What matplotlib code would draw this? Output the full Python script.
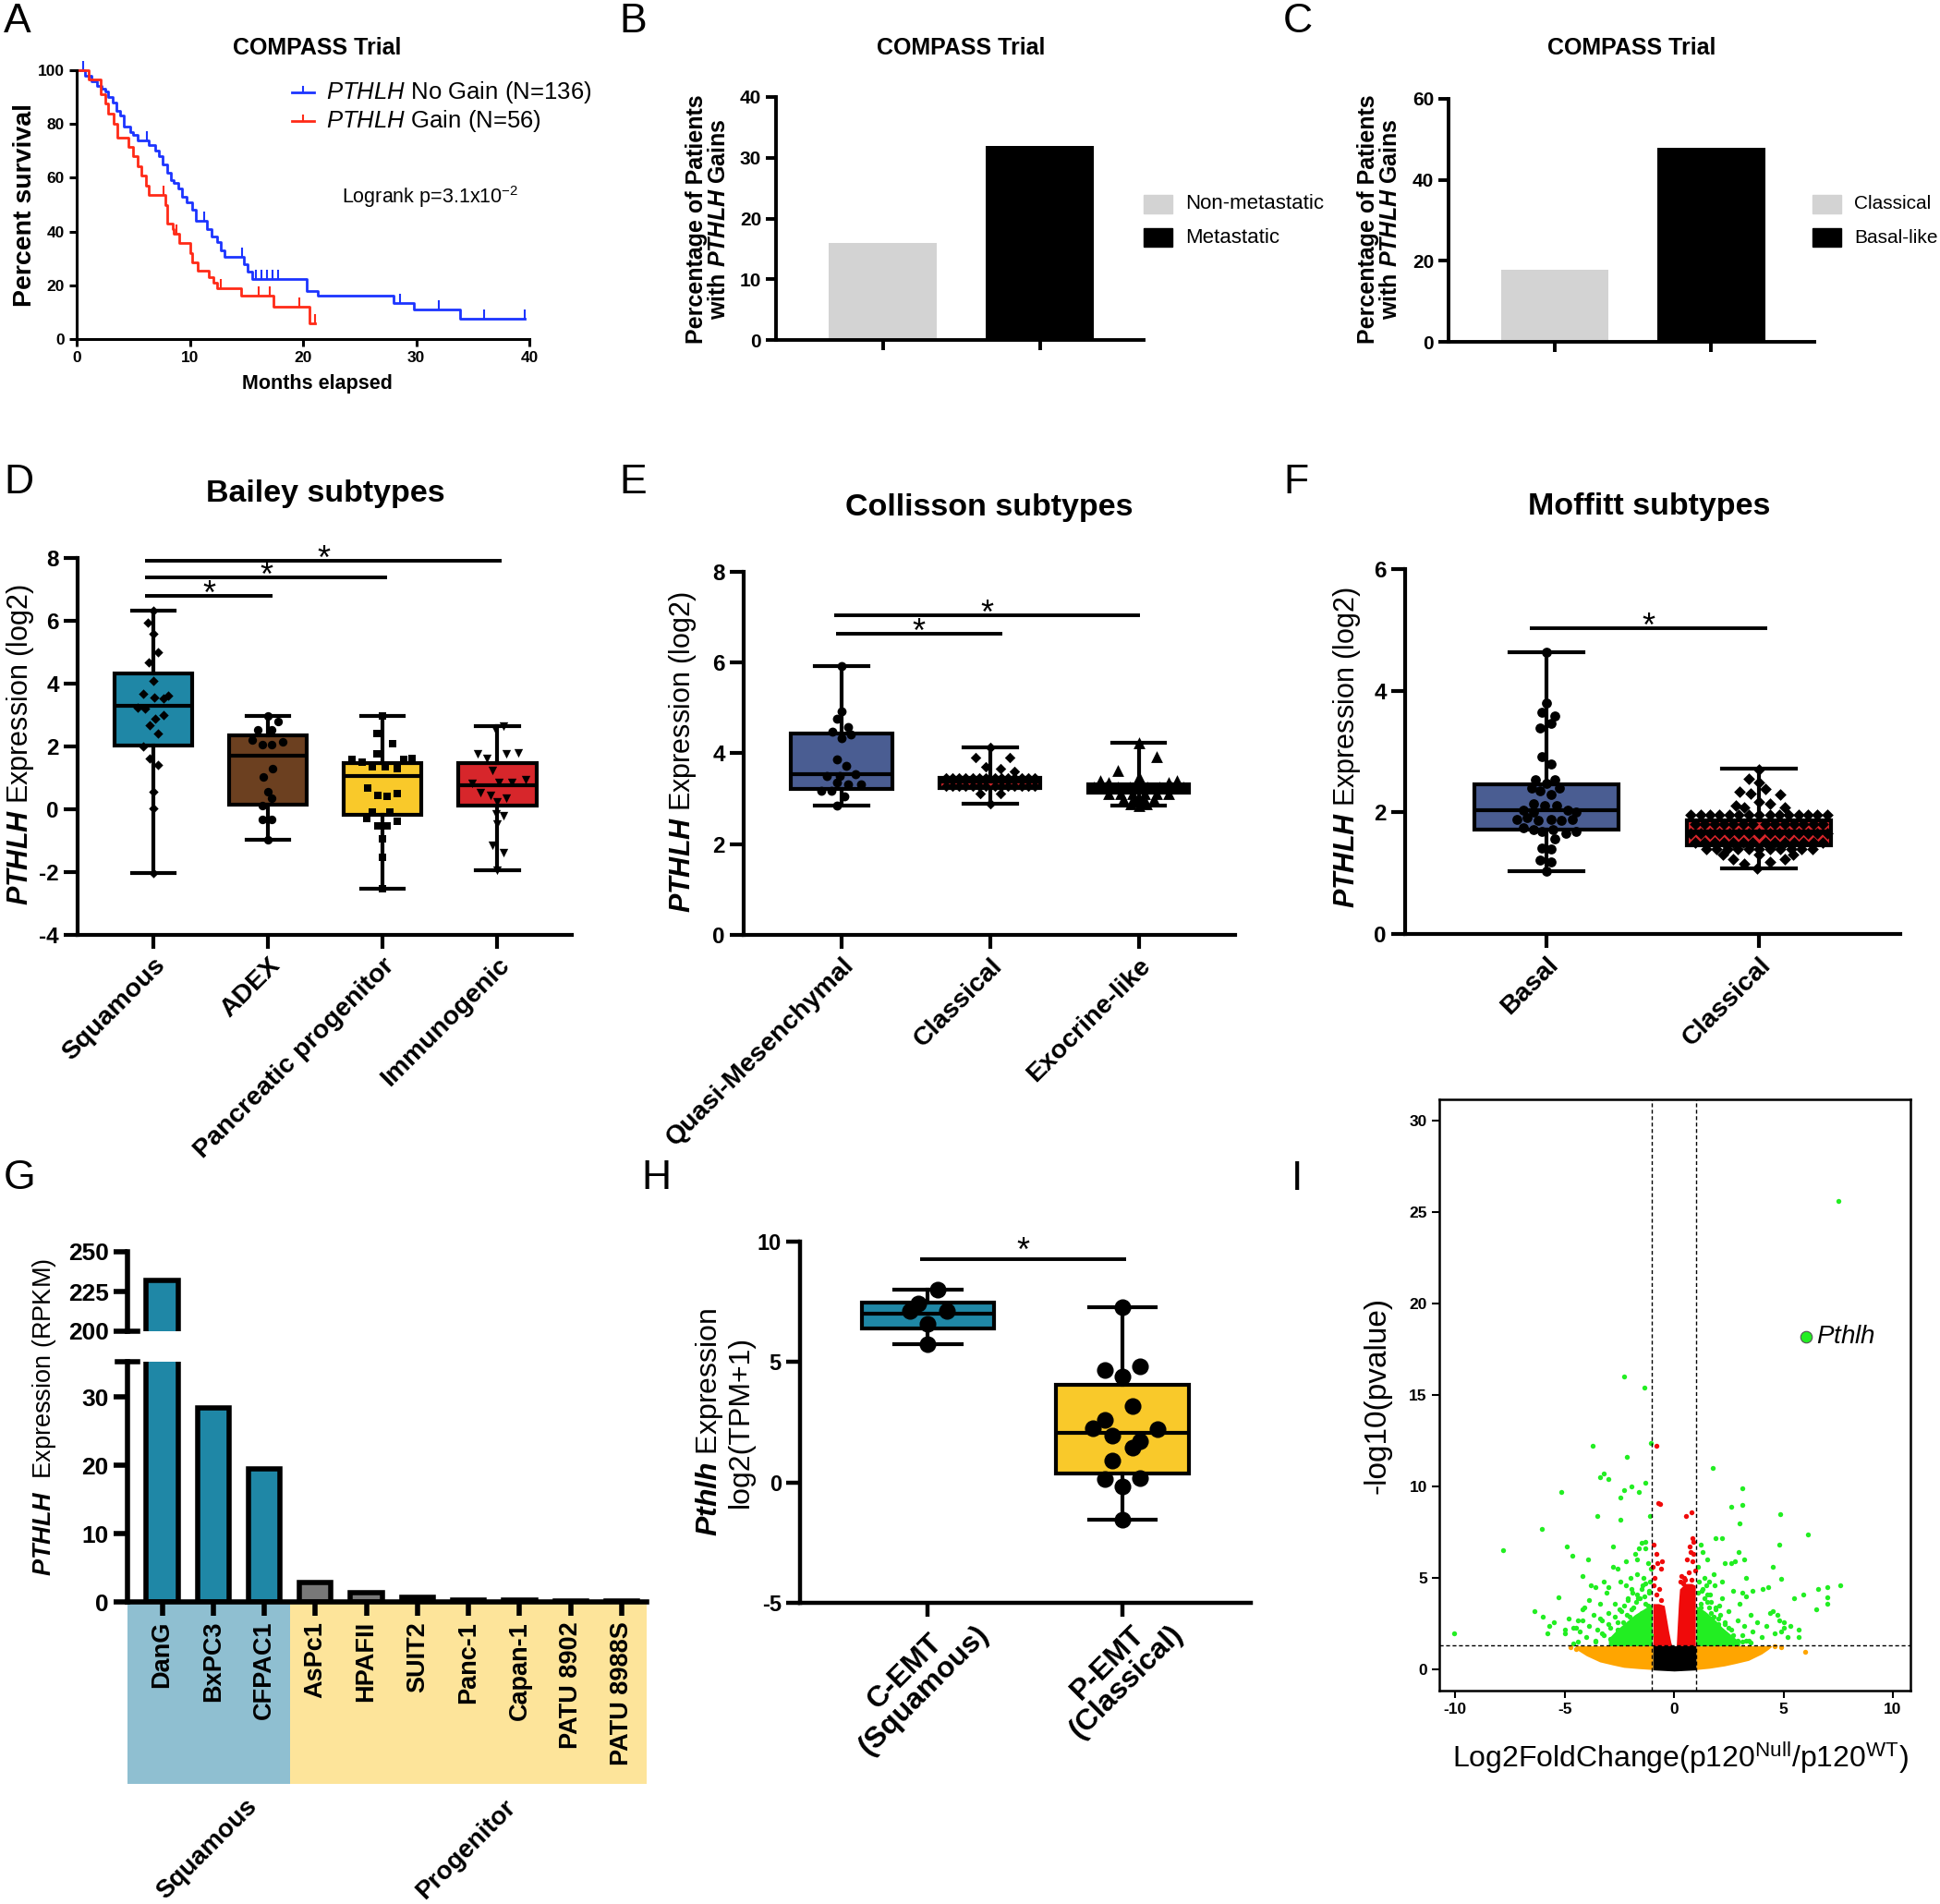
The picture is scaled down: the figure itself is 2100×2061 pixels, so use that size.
import matplotlib
matplotlib.use('Agg')
import matplotlib.pyplot as plt
import matplotlib.transforms as mtrans
from matplotlib.lines import Line2D
from matplotlib.patches import Rectangle

plt.rcParams['font.family'] = ['Liberation Sans', 'DejaVu Sans']
plt.rcParams['font.weight'] = 'bold'
plt.rcParams['axes.unicode_minus'] = False
plt.rcParams['mathtext.fontset'] = 'custom'
plt.rcParams['mathtext.rm'] = 'Liberation Sans:normal'
plt.rcParams['mathtext.it'] = 'Liberation Sans:italic:normal'
plt.rcParams['mathtext.bf'] = 'Liberation Sans:bold'
plt.rcParams['mathtext.sf'] = 'Liberation Sans:bold:italic'

# ---------------- data ----------------
# A - survival (months, percent)
km_ng_t = [0, 0.7, 1.3, 1.8, 2.2, 2.5, 2.8, 3.2, 3.5, 3.8, 4.2, 4.7, 5.0, 5.4, 6.4, 6.9, 7.3, 7.6, 8.0, 8.3,
           8.6, 9.0, 9.3, 9.7, 10.2, 10.5, 11.5, 11.9, 12.4, 12.7, 13.1, 14.8, 15.1, 15.5, 20.3, 21.3, 28.0, 29.8, 33.9, 39.6]
km_ng_s = [100, 98, 96, 94, 93, 92, 90, 88, 85, 83, 79, 77, 76, 74, 72, 70, 68, 65, 62, 59,
           58, 56, 53, 51, 48, 44, 41, 38, 36, 33, 30.5, 28, 25, 22.5, 18, 16, 13.4, 11, 7.5, 7.5]
km_ng_cens_t = [0.6, 6.2, 11.3, 14.6, 15.8, 16.3, 16.8, 17.3, 17.8, 28.6, 32.0, 36.0, 39.6]
km_ng_cens_s = [100, 74, 44, 30.5, 22.5, 22.5, 22.5, 22.5, 22.5, 13.4, 11, 7.5, 7.5]
km_g_t = [0, 1.1, 2.1, 2.5, 2.8, 3.3, 3.6, 4.6, 5.0, 5.4, 5.7, 6.1, 6.4, 7.8, 8.0, 8.5, 8.6, 9.1, 10.0, 10.2,
          10.7, 11.7, 12.1, 12.4, 14.5, 17.4, 20.6, 21.1]
km_g_s = [100, 96.4, 91, 87.5, 84, 80, 75, 71.4, 67.9, 64.3, 60.7, 57.1, 53.6, 50, 43, 41, 39.3, 35.7, 32, 28.6,
          25.5, 23, 21, 19, 16, 12, 6, 6]
km_g_cens_t = [7.7, 8.8, 12.7, 16.1, 17.1, 19.7, 21.1]
km_g_cens_s = [53.6, 39.3, 19, 16, 16, 12, 6]

# B, C - percentage with gains
b_groups = ['Non-metastatic', 'Metastatic']
b_values = [16, 32]
c_groups = ['Classical', 'Basal-like']
c_values = [17.8, 47.8]

# D - Bailey subtypes (whislo, q1, med, q3, whishi)
d_cats = ['Squamous', 'ADEX', 'Pancreatic progenitor', 'Immunogenic']
d_stats = [(-2.03, 2.02, 3.30, 4.33, 6.32),
           (-0.98, 0.16, 1.70, 2.34, 2.98),
           (-2.54, -0.18, 1.06, 1.48, 2.98),
           (-1.94, 0.12, 0.76, 1.48, 2.66)]
d_sq_x = [0, -0.05, 0, 0.04, -0.04, 0, -0.09, 0.01, 0.09, 0.13, -0.14, -0.07, 0.09, 0.02, -0.03, 0.04, -0.09, -0.03, 0.04, 0, 0, 0]
d_sq_y = [6.32, 5.94, 5.60, 5.01, 4.69, 4.08, 3.67, 3.55, 3.52, 3.63, 3.23, 3.20, 3.01, 2.89, 2.69, 2.40, 1.99, 1.62, 1.40, 0.56, 0.03, -2.03]
d_adex_x = [0, 0.09, -0.09, 0.03, -0.14, -0.05, 0.03, 0.13, 0.04, -0.04, 0, 0.03, -0.05, -0.05, 0.03, 0]
d_adex_y = [2.98, 2.79, 2.53, 2.53, 2.21, 2.06, 2.06, 2.16, 1.29, 1.02, 0.56, 0.35, 0.12, -0.31, -0.31, -0.98]
d_pp_x = [0, -0.05, 0.09, -0.05, -0.27, -0.18, 0.26, 0.18, -0.09, 0.02, 0.13, -0.13, -0.04, 0.04, 0.13, -0.09,
          0.06, -0.14, 0.13, -0.04, 0.04, 0, 0, 0]
d_pp_y = [2.98, 2.40, 2.08, 1.77, 1.58, 1.51, 1.62, 1.58, 1.36, 1.36, 1.29, 0.67, 0.45, 0.41, 0.50, -0.09,
          -0.10, -0.29, -0.39, -0.53, -0.53, -0.94, -1.52, -2.54]
d_im_x = [-0.02, 0.05, -0.17, -0.09, 0.08, 0.18, -0.04, -0.22, -0.15, -0.06, 0.01, 0.13, 0.25, 0, 0.08, -0.01,
          0.05, 0, -0.04, 0.05, 0]
d_im_y = [2.57, 2.66, 1.77, 1.62, 1.77, 1.80, 1.23, 0.82, 0.53, 0.45, 0.85, 0.85, 0.94, 0.23, 0.35, -0.16,
          -0.20, -0.47, -1.15, -1.37, -1.94]

# E - Collisson subtypes
e_cats = ['Quasi-Mesenchymal', 'Classical', 'Exocrine-like']
e_stats = [(2.84, 3.21, 3.54, 4.43, 5.92),
           (2.89, 3.23, 3.37, 3.47, 4.14),
           (2.84, 3.13, 3.22, 3.32, 4.23)]
e_qm_x = [0, 0, -0.03, 0.04, -0.06, 0.06, 0, -0.03, 0.03, -0.10, -0.01, 0.09, -0.03, 0.13, 0.04, -0.14, -0.07, 0.02, -0.03]
e_qm_y = [5.92, 4.93, 4.76, 4.58, 4.48, 4.42, 4.33, 3.87, 3.72, 3.51, 3.51, 3.54, 3.36, 3.32, 3.32, 3.17, 3.17, 3.06, 2.84]
e_cl_x = [0, -0.10, 0.13, -0.03, 0.07, 0.16,
          -0.30, -0.255, -0.21, -0.165, -0.12, -0.075, -0.03, 0.03, 0.075, 0.12, 0.165, 0.21, 0.255, 0.30,
          -0.30, -0.255, -0.21, -0.165, -0.12, -0.075, -0.03, 0.03, 0.075, 0.12, 0.165, 0.21, 0.255, 0.30,
          -0.07, 0.07, 0]
e_cl_y = [4.14, 3.90, 3.90, 3.71, 3.67, 3.60,
          3.46, 3.46, 3.46, 3.46, 3.46, 3.46, 3.46, 3.46, 3.46, 3.46, 3.46, 3.46, 3.46, 3.46,
          3.28, 3.28, 3.28, 3.28, 3.28, 3.28, 3.28, 3.28, 3.28, 3.28, 3.28, 3.28, 3.28, 3.28,
          3.11, 3.11, 2.89]
e_ex_x = [0, -0.14, 0.12, 0, -0.26, -0.20, 0.20, 0.26,
          -0.30, -0.22, -0.14, -0.06, 0.06, 0.14, 0.22, 0.30,
          -0.20, -0.12, -0.04, 0.04, 0.12, 0.20, -0.10, -0.03, 0.03, 0.10, -0.05, 0.05, 0]
e_ex_y = [4.23, 3.63, 3.92, 3.49, 3.40, 3.36, 3.36, 3.40,
          3.25, 3.25, 3.25, 3.25, 3.25, 3.25, 3.25, 3.25,
          3.12, 3.12, 3.12, 3.12, 3.12, 3.12, 3.00, 3.00, 3.00, 3.00, 2.90, 2.90, 2.84]

# F - Moffitt subtypes
f_cats = ['Basal', 'Classical']
f_stats = [(1.03, 1.71, 2.04, 2.46, 4.63),
           (1.08, 1.46, 1.68, 1.87, 2.72)]
f_ba_x = [0, 0, -0.02, 0.04, 0.02, -0.03, -0.02, 0.02, -0.05, 0.04, 0, -0.07, 0.06, -0.03, 0.02, -0.06, -0.01,
          0.05, -0.11, -0.06, 0.10, 0.14, -0.14, -0.09, -0.04, 0.02, 0.07, 0.12, -0.11, -0.06, -0.02, 0.03,
          0.09, 0.14, 0.04, -0.02, 0.02, -0.03, 0.02, 0]
f_ba_y = [4.63, 3.80, 3.65, 3.58, 3.47, 3.38, 2.91, 2.80, 2.54, 2.54, 2.48, 2.40, 2.40, 2.36, 2.29, 2.14, 2.11,
          2.11, 2.04, 2.01, 2.04, 2.01, 1.89, 1.91, 1.87, 1.89, 1.87, 1.89, 1.74, 1.71, 1.68, 1.72,
          1.65, 1.68, 1.57, 1.42, 1.40, 1.22, 1.19, 1.03]
f_cl_x = [0, -0.05, 0, -0.09, -0.04, 0.03, 0.10, -0.11, -0.07, 0.05, 0.12, 0,
          -0.32, -0.275, -0.23, -0.185, -0.14, -0.095, -0.05, 0, 0.05, 0.095, 0.14, 0.185, 0.23, 0.275, 0.32,
          -0.30, -0.255, -0.21, -0.165, -0.12, -0.075, -0.03, 0.03, 0.075, 0.12, 0.165, 0.21, 0.255, 0.30,
          -0.32, -0.275, -0.23, -0.185, -0.14, -0.095, -0.05, 0, 0.05, 0.095, 0.14, 0.185, 0.23, 0.275, 0.32,
          -0.30, -0.255, -0.21, -0.165, -0.12, -0.075, -0.03, 0.03, 0.075, 0.12, 0.165, 0.21, 0.255, 0.30,
          -0.25, -0.20, -0.15, -0.10, -0.05, 0, 0.05, 0.10, 0.15, 0.20, 0.25,
          -0.17, -0.12, -0.07, -0.01, 0.05, 0.12, 0.16, 0]
f_cl_y = [2.70, 2.55, 2.49, 2.34, 2.31, 2.38, 2.29, 2.11, 2.08, 2.14, 2.08, 2.17,
          1.96, 1.96, 1.96, 1.96, 1.96, 1.96, 1.96, 1.96, 1.96, 1.96, 1.96, 1.96, 1.96, 1.96, 1.96,
          1.81, 1.81, 1.81, 1.81, 1.81, 1.81, 1.81, 1.81, 1.81, 1.81, 1.81, 1.81, 1.81, 1.81,
          1.66, 1.66, 1.66, 1.66, 1.66, 1.66, 1.66, 1.66, 1.66, 1.66, 1.66, 1.66, 1.66, 1.66, 1.66,
          1.50, 1.50, 1.50, 1.50, 1.50, 1.50, 1.50, 1.50, 1.50, 1.50, 1.50, 1.50, 1.50, 1.50,
          1.39, 1.39, 1.39, 1.39, 1.39, 1.39, 1.39, 1.39, 1.39, 1.39, 1.39,
          1.30, 1.23, 1.15, 1.08, 1.19, 1.23, 1.30, 1.31]

# G - cell lines RPKM
g_lines = ['DanG', 'BxPC3', 'CFPAC1', 'AsPc1', 'HPAFII', 'SUIT2', 'Panc-1', 'Capan-1', 'PATU 8902', 'PATU 8988S']
g_rpkm = [232, 28.4, 19.5, 2.8, 1.3, 0.7, 0.3, 0.25, 0.2, 0.1]
g_group = ['Squamous', 'Squamous', 'Squamous', 'Progenitor', 'Progenitor', 'Progenitor', 'Progenitor',
           'Progenitor', 'Progenitor', 'Progenitor']

# H - mouse EMT subtypes
h_cats = ['C-EMT\n(Squamous)', 'P-EMT\n(Classical)']
h_stats = [(5.74, 6.39, 7.01, 7.46, 7.99),
           (-1.56, 0.39, 2.05, 4.04, 7.27)]
h_c_x = [0.05, -0.05, -0.09, 0.10, 0, 0]
h_c_y = [7.99, 7.42, 7.13, 7.13, 6.58, 5.74]
h_p_x = [0, -0.09, 0.09, 0, 0.05, -0.09, -0.15, 0.18, -0.05, 0.09, 0.05, -0.05, -0.09, 0.09, 0, 0]
h_p_y = [7.27, 4.67, 4.82, 4.39, 3.16, 2.58, 2.25, 2.23, 1.93, 1.70, 1.46, 0.92, 0.14, 0.18, -0.16, -1.56]

# I - volcano (log2FC, -log10 p)
green_x = [7.5, -2.3, -1.36, -1.05, -3.73, -2.16, -3.2, -3.4, -3.0, -5.16, -1.97, -1.3, -2.3, -1.6, -2.45, 1.76, 3.1,
           3.1, 2.6, 4.86, 3.0, -3.5, -2.45, -1.1, -6.04, -7.8, 6.1, -4.9, 1.9, 2.2, 4.8, 2.96, 3.2, -3.94, -4.65,
           4.5, 2.3, 2.8, 4.88, 4.05, 4.3, 6.58, 7.0, 7.6, 7.0, 7.0, 6.5, 5.5, 5.9, -6.4, -6.0, -5.3, -4.17, -10.05,
           5.7, 5.7, -1.3, -1.6, -1.8, -2.8, -2.2, -2.6, -3.6, -3.2, 1.2, 1.5, 1.8, 3.3, 3.6, -5.0, -4.6, -4.4, -5.7,
           -4.2, -3.9, 4.7, 5.0, 5.3, 4.9, 4.5,
           -4.4, -4.3, -4.2, -4.1, -4.0, -3.9, -3.8, -3.7, -3.6, -3.5, -3.4, -3.3, -3.2, -3.1, -3.0, -2.9, -2.8,
           -2.7, -2.6, -2.5, -2.45, -2.4, -2.3, -2.2, -2.1, -2.05, -2.0, -1.95, -1.9, -1.85, -1.8, -1.75, -1.7,
           -1.65, -1.6, -1.55, -1.5, -1.45, -1.4, -1.35, -1.3, -1.25, -1.2, -1.15, -1.1, -1.08, -1.05, -1.2, -1.3,
           -1.5, -1.7, -2.0, -2.8, -3.0, -4.5, -4.8, -5.0, -5.5, -5.8, -4.6,
           1.1, 1.15, 1.2, 1.25, 1.3, 1.35, 1.4, 1.45, 1.5, 1.55, 1.6, 1.65, 1.7, 1.75, 1.8, 1.85, 1.9, 1.95, 2.0,
           2.1, 2.2, 2.3, 2.4, 2.5, 2.6, 2.7, 2.8, 2.9, 3.0, 3.1, 3.2, 3.3, 3.4, 3.5, 3.6, 3.8, 4.0, 4.2, 4.4, 4.6,
           4.8, 5.0, 5.2, 1.1, 1.3, 1.6, 2.2, 2.6, 3.1,
           -3.3, -3.0, -2.7, -2.5, -2.3, -2.1, -1.9, -1.7, -1.5, -1.3, -1.15, -2.9, -2.6, -2.35, -2.15, -1.95, -1.75,
           -1.55, -1.35, -1.2, -3.6, -3.4, -2.2, -1.4, -1.1,
           1.1, 1.3, 1.5, 1.7, 1.9, 2.1, 2.3, 2.5, 2.7, 2.9, 3.1, 1.2, 1.4, 1.6, 1.8, 2.0, 2.2, 2.4, 2.6, 2.8,
           3.3, 3.5, 1.15, 1.45, 2.05]
green_y = [25.6, 16.0, 15.4, 12.4, 12.2, 11.6, 10.7, 10.5, 10.4, 9.7, 10.0, 10.2, 9.8, 9.7, 9.4, 11.0, 9.9,
           9.0, 8.9, 8.5, 8.0, 8.4, 8.2, 8.4, 7.7, 6.5, 7.4, 6.7, 7.2, 7.2, 6.8, 6.4, 6.0, 6.0, 6.2,
           5.6, 5.8, 5.9, 4.95, 4.4, 4.5, 4.4, 4.5, 4.6, 3.95, 3.6, 3.3, 3.9, 4.1, 3.2, 2.9, 3.95, 5.1, 2.0,
           2.2, 1.8, 7.0, 6.6, 6.3, 6.7, 5.9, 5.5, 4.5, 4.8, 6.8, 6.0, 5.2, 5.0, 4.3, 2.0, 2.3, 2.7, 2.4,
           3.3, 3.8, 3.0, 2.6, 2.4, 2.1, 3.2,
           1.5, 2.1, 2.7, 3.4, 1.8, 2.4, 4.6, 3.0, 1.6, 2.2, 3.6, 2.7, 1.9, 4.2, 3.1, 2.3, 1.6,
           3.6, 2.6, 2.0, 4.8, 3.2, 1.7, 2.4, 3.8, 2.9, 1.5, 4.4, 2.2, 3.4, 1.8, 2.7, 5.2,
           3.9, 1.6, 2.4, 3.1, 4.6, 2.0, 2.8, 3.6, 1.5, 2.3, 4.2, 3.0, 1.9, 5.5, 5.8, 6.6,
           6.9, 6.0, 5.0, 5.6, 4.5, 2.3, 2.8, 2.2, 2.6, 2.0, 1.4,
           1.6, 2.5, 3.4, 4.3, 1.9, 2.9, 5.0, 2.2, 3.7, 1.5, 2.6, 4.1, 3.1, 1.8, 2.3, 4.6, 3.4, 1.6, 2.8,
           2.0, 3.9, 2.5, 1.7, 3.2, 2.2, 4.3, 1.5, 2.7, 3.6, 1.9, 2.4, 4.0, 1.6, 3.0, 2.1, 2.6, 1.8, 2.4, 3.1, 2.0,
           2.7, 2.3, 1.8, 5.6, 6.4, 4.8, 4.8, 5.8, 4.2,
           2.0, 2.5, 2.9, 3.3, 3.5, 3.9, 4.2, 4.1, 4.4, 4.7, 4.3, 1.7, 2.2, 2.6, 3.0, 3.3, 3.7,
           3.9, 4.0, 3.5, 1.5, 2.8, 4.6, 5.0, 4.8,
           4.2, 4.4, 4.1, 3.7, 3.3, 3.0, 2.6, 2.3, 1.9, 1.6, 1.5, 3.6, 3.9, 3.4, 2.9, 2.5, 2.1, 1.8, 1.5, 1.4,
           1.6, 1.45, 4.8, 4.6, 3.5]
red_x = [-0.82, -0.72, -0.65, -0.8, -0.75, -0.55, -0.6, -0.9, -0.95, 0.55, 0.8, 0.85, 0.9, 0.7, 0.75, 0.6, 0.85,
         0.95, 0.35, 0.5, 0.8, 0.4, 0.65, -0.7, -0.8, -0.6, 0.3, 0.45, 0.9, -0.98, -0.92]
red_y = [12.2, 9.1, 9.05, 6.3, 5.8, 5.9, 5.5, 5.0, 6.8, 8.4, 8.6, 7.2, 7.0, 6.7, 6.4, 6.0, 5.9,
         5.4, 5.1, 4.9, 4.9, 4.7, 5.3, 4.4, 4.1, 3.8, 4.8, 5.0, 6.3, 5.6, 4.6]
orange_x = [6.0, -4.75, 4.6, -4.5, 4.9]
orange_y = [0.95, 1.2, 1.25, 1.1, 1.2]
# dense regions (envelopes)
orange_l_x = [-4.5, -4.4, -4.0, -3.4, -2.8, -2.3, -1.6, -0.97]
orange_l_lo = [1.25, 1.05, 0.75, 0.42, 0.25, 0.12, 0.05, 0.0]
orange_r_x = [1.0, 1.6, 2.3, 2.8, 3.4, 4.0, 4.3, 4.45]
orange_r_lo = [0.0, 0.07, 0.2, 0.33, 0.5, 0.85, 1.1, 1.25]
black_x = [-0.97, -0.5, 0.0, 0.5, 1.0]
black_lo = [-0.02, -0.05, -0.08, -0.05, -0.02]
red_l_x = [-0.97, -0.7, -0.45, -0.35, -0.25, -0.15, -0.1]
red_l_hi = [3.6, 3.6, 3.5, 2.8, 2.1, 1.5, 1.3]
red_r_x = [0.1, 0.15, 0.2, 0.25, 0.5, 0.8, 0.97]
red_r_hi = [1.3, 2.5, 3.6, 4.4, 4.7, 4.7, 4.6]
green_l_x = [-3.0, -2.6, -2.2, -1.8, -1.4, -1.0]
green_l_hi = [1.7, 2.2, 2.6, 3.0, 3.3, 3.6]
green_r_x = [1.0, 1.4, 1.8, 2.2, 2.6, 3.0]
green_r_hi = [3.5, 3.2, 2.8, 2.3, 1.9, 1.5]
pthlh_fc, pthlh_p = 6.03, 18.2

# colours
TEAL = '#1f87a6'
BROWN = '#6c4020'
YELLOW = '#f9c92a'
RED = '#d7262b'
SLATE = '#4a5d92'
GREEN = '#22ee22'
VRED = '#f00a0a'
ORANGE = '#ffa500'

# ---------------- figure ----------------
W, H = 2100, 2061
fig = plt.figure(figsize=(W / 100, H / 100), dpi=100)


def add_ax(l, t, r, b):
    return fig.add_axes([l / W, 1 - b / H, (r - l) / W, (b - t) / H])


def ftext(x, y, s, **kw):
    return fig.text(x / W, 1 - y / H, s, **kw)


def prism(ax, lw, tlen, fs, xfs=None):
    for sp in ['top', 'right']:
        ax.spines[sp].set_visible(False)
    for sp in ['left', 'bottom']:
        ax.spines[sp].set_linewidth(lw)
    ax.tick_params(width=lw, length=tlen, labelsize=fs, direction='out')
    if xfs:
        ax.tick_params(axis='x', labelsize=xfs)


def boxes(ax, stats, colors, capw, lw):
    bx = [dict(whislo=s[0], q1=s[1], med=s[2], q3=s[3], whishi=s[4]) for s in stats]
    bp = ax.bxp(bx, positions=range(len(bx)), widths=0.68, capwidths=capw, patch_artist=True,
                showfliers=False, manage_ticks=False,
                boxprops=dict(linewidth=lw, edgecolor='black'),
                whiskerprops=dict(linewidth=lw, color='black'),
                capprops=dict(linewidth=lw, color='black'),
                medianprops=dict(linewidth=lw, color='black'))
    for patch, c in zip(bp['boxes'], colors):
        patch.set_facecolor(c)


def dots(ax, pos, xo, yv, marker, size):
    ax.scatter([pos + x for x in xo], yv, marker=marker, s=size, color='black', lw=0, zorder=3)


def sig(ax, x0, x1, y, off, lw=2.8):
    ax.plot([x0, x1], [y, y], color='black', lw=lw, clip_on=False, solid_capstyle='butt')
    ax.annotate('*', xy=((x0 + x1) / 2, y), xytext=(0, off), textcoords='offset points',
                ha='center', va='center', fontsize=26, fontweight='normal')


# panel letters
for lab, x, y in [('A', 4, 3), ('B', 670, 3), ('C', 1389, 3), ('D', 4, 502), ('E', 670, 502),
                  ('F', 1389, 502), ('G', 4, 1255), ('H', 694, 1255), ('I', 1398, 1256)]:
    ftext(x, y, lab, fontsize=32, fontweight='normal', ha='left', va='top')

# ---- A ----
ax = add_ax(83, 76, 573, 367)
ax.step(km_ng_t, km_ng_s, where='post', color='#1c34ff', lw=2, clip_on=False)
ax.plot(km_ng_cens_t, km_ng_cens_s, ls='none', marker=2, ms=7, mew=1.5, color='#1c34ff', clip_on=False)
ax.step(km_g_t, km_g_s, where='post', color='#ff2a17', lw=2, clip_on=False)
ax.plot(km_g_cens_t, km_g_cens_s, ls='none', marker=2, ms=7, mew=1.5, color='#ff2a17', clip_on=False)
ax.set_xlim(0, 40)
ax.set_ylim(0, 100)
ax.set_xticks([0, 10, 20, 30, 40])
ax.set_yticks([0, 20, 40, 60, 80, 100])
prism(ax, 2.2, 6, 12.5)
ftext(343, 52, 'COMPASS Trial', fontsize=18, ha='center', va='center')
ftext(27, 222, 'Percent survival', fontsize=20.5, rotation=90, ha='center', va='center')
ftext(343, 415, 'Months elapsed', fontsize=15.5, ha='center', va='center')
for y, c, lab in [(100, '#1c34ff', '$\\mathit{PTHLH}$ No Gain (N=136)'), (131, '#ff2a17', '$\\mathit{PTHLH}$ Gain (N=56)')]:
    fig.add_artist(Line2D([316 / W, 340 / W], [1 - y / H, 1 - y / H], color=c, lw=2, transform=fig.transFigure))
    fig.add_artist(Line2D([328 / W, 328 / W], [1 - y / H, 1 - (y - 6) / H], color=c, lw=1.5, transform=fig.transFigure))
    ftext(353, y, lab, fontsize=18.5, fontweight='normal', ha='left', va='center')
ftext(370, 213, 'Logrank p=3.1x10$^{\\mathrm{-2}}$', fontsize=15.5, fontweight='normal', ha='left', va='center')

# ---- B, C ----
for vals, groups, box, ylim, yt, title_x, ylab_x, leg_x, leg_fs in [
        (b_values, b_groups, (840, 105, 1238, 368), 40, [0, 10, 20, 30, 40], 1040, 766, 1238, 16),
        (c_values, c_groups, (1568, 107, 1964, 370), 60, [0, 20, 40, 60], 1766, 1493, 1962, 15)]:
    ax = add_ax(*box)
    ax.bar([0, 1], vals, width=0.69, color=['#d3d3d3', 'black'], zorder=1)
    ax.set_xlim(-0.68, 1.66)
    ax.set_ylim(0, ylim)
    ax.set_yticks(yt)
    ax.set_xticks([0, 1])
    ax.set_xticklabels(['', ''])
    prism(ax, 2.8, 8, 15)
    ftext(title_x, 52, 'COMPASS Trial', fontsize=18, ha='center', va='center')
    ftext(ylab_x, 237, 'Percentage of Patients\nwith $\\mathsf{PTHLH}$ Gains', fontsize=18,
          rotation=90, ha='center', va='center', linespacing=1.0, multialignment='center')
    for i, (g, c) in enumerate(zip(groups, ['#d3d3d3', 'black'])):
        y0 = 211 + i * 36
        fig.add_artist(Rectangle((leg_x / W, 1 - (y0 + 20) / H), 31 / W, 20 / H, color=c,
                                 transform=fig.transFigure))
        ftext(leg_x + 45, y0 + 10, g, fontsize=leg_fs, fontweight='normal', ha='left', va='center')

# ---- D ----
ax = add_ax(84, 604, 619, 1012)
boxes(ax, d_stats, [TEAL, BROWN, YELLOW, RED], 0.375, 3)
dots(ax, 0, d_sq_x, d_sq_y, 'D', 28)
dots(ax, 1, d_adex_x, d_adex_y, 'o', 45)
dots(ax, 2, d_pp_x, d_pp_y, 's', 36)
dots(ax, 3, d_im_x, d_im_y, 'v', 45)
sig(ax, -0.07, 1.04, 6.78, 0.5)
sig(ax, -0.07, 2.04, 7.37, 0.5)
sig(ax, -0.07, 3.04, 7.92, 0.5)
ax.set_xlim(-0.66, 3.65)
ax.set_ylim(-4, 8)
ax.set_yticks([-4, -2, 0, 2, 4, 6, 8])
ax.set_xticks(range(4))
ax.set_xticklabels(d_cats, rotation=45, ha='right', rotation_mode='anchor')
prism(ax, 3, 11, 17.5, 20.5)
ftext(352, 534, 'Bailey subtypes', fontsize=24.5, ha='center', va='center')
ftext(22, 806, '$\\mathsf{PTHLH}$ Expression (log2)', fontsize=22, fontweight='normal', rotation=90,
      ha='center', va='center')

# ---- E ----
ax = add_ax(805, 619, 1337, 1012)
boxes(ax, e_stats, [SLATE, RED, 'black'], 0.36, 3)
dots(ax, 0, e_qm_x, e_qm_y, 'o', 50)
dots(ax, 1, e_cl_x, e_cl_y, 'D', 34)
dots(ax, 2, e_ex_x, e_ex_y, '^', 85)
sig(ax, -0.04, 1.08, 6.63, 0.5)
sig(ax, -0.05, 2.01, 7.05, 0.5)
ax.set_xlim(-0.66, 2.65)
ax.set_ylim(0, 8)
ax.set_yticks([0, 2, 4, 6, 8])
ax.set_xticks(range(3))
ax.set_xticklabels(e_cats, rotation=45, ha='right', rotation_mode='anchor')
prism(ax, 3, 11, 17.5, 20.5)
ftext(1071, 550, 'Collisson subtypes', fontsize=24.5, ha='center', va='center')
ftext(739, 814, '$\\mathsf{PTHLH}$ Expression (log2)', fontsize=22, fontweight='normal', rotation=90,
      ha='center', va='center')

# ---- F ----
ax = add_ax(1521, 616, 2057, 1011)
boxes(ax, f_stats, [SLATE, RED], 0.35, 3)
dots(ax, 0, f_ba_x, f_ba_y, 'o', 60)
dots(ax, 1, f_cl_x, f_cl_y, 'D', 42)
sig(ax, -0.08, 1.04, 5.03, 0.5)
ax.set_xlim(-0.665, 1.665)
ax.set_ylim(0, 6)
ax.set_yticks([0, 2, 4, 6])
ax.set_xticks(range(2))
ax.set_xticklabels(f_cats, rotation=45, ha='right', rotation_mode='anchor')
prism(ax, 3, 11, 17.5, 20.5)
ftext(1785, 548, 'Moffitt subtypes', fontsize=24.5, ha='center', va='center')
ftext(1458, 809, '$\\mathsf{PTHLH}$ Expression (log2)', fontsize=22, fontweight='normal', rotation=90,
      ha='center', va='center')

# ---- G ----
g_pos = list(range(len(g_lines)))
g_colors = [TEAL if g == 'Squamous' else '#787878' for g in g_group]
bg = add_ax(138, 1734, 700, 1931)
bg.set_xlim(-0.68, 9.49)
bg.set_ylim(0, 1)
n_sq = g_group.count('Squamous')
bg.axvspan(-0.68, n_sq - 0.5, color='#8fbfd1', lw=0)
bg.axvspan(n_sq - 0.5, 9.49, color='#fde49a', lw=0)
bg.axis('off')
ftext(224, 2002, 'Squamous', fontsize=20, rotation=45, ha='center', va='center')
ftext(505, 2002, 'Progenitor', fontsize=20, rotation=45, ha='center', va='center')

axl = add_ax(138, 1474, 700, 1734)
axu = add_ax(138, 1355, 700, 1441)
for a in (axl, axu):
    a.set_facecolor('none')
    a.bar(g_pos, g_rpkm, width=0.62, color=g_colors, edgecolor='black', lw=4)
    a.set_xlim(-0.68, 9.49)
axl.set_ylim(0, 35.2)
axu.set_ylim(200, 250)
axl.set_yticks([0, 10, 20, 30])
axu.set_yticks([200, 225, 250])
axl.set_xticks(g_pos)
axl.set_xticklabels(g_lines, rotation=90, va='top')
axu.set_xticks([])
prism(axl, 4, 11, 19, 19.5)
prism(axu, 4, 11, 19)
axl.tick_params(axis='x', pad=4)
axu.spines['bottom'].set_visible(False)
# axis break marks
axu.plot([0, 0.02], [200, 200], color='black', lw=4, transform=axu.get_yaxis_transform(), clip_on=False)
axl.plot([-0.02, 0.02], [35.2, 35.2], color='black', lw=4, transform=axl.get_yaxis_transform(), clip_on=False)
ftext(48, 1534, '$\\mathsf{PTHLH}$  Expression (RPKM)', fontsize=19.5, fontweight='normal', rotation=90,
      ha='center', va='center')

# ---- H ----
ax = add_ax(866, 1344, 1354, 1735)
boxes(ax, h_stats, [TEAL, YELLOW], 0.345, 3)
dots(ax, 0, h_c_x, h_c_y, 'o', 170)
dots(ax, 1, h_p_x, h_p_y, 'o', 170)
sig(ax, -0.04, 1.02, 9.26, 6)
ax.set_xlim(-0.657, 1.66)
ax.set_ylim(-5, 10)
ax.set_yticks([-5, 0, 5, 10])
ax.set_xticks(range(2))
ax.set_xticklabels(h_cats, rotation=45, ha='right', rotation_mode='anchor', multialignment='center',
                   linespacing=0.95)
prism(ax, 3.2, 11, 17, 23)
shift = mtrans.ScaledTranslation(0.30, 0.22, fig.dpi_scale_trans)
for lab in ax.get_xticklabels():
    lab.set_transform(lab.get_transform() + shift)
ftext(784, 1539, '$\\mathsf{Pthlh}$ Expression\nlog2(TPM+1)', fontsize=23, fontweight='normal', rotation=90,
      ha='center', va='center', linespacing=1.1, multialignment='center')

# ---- I ----
ax = add_ax(1558, 1190, 2068, 1830)
ax.fill_between(orange_l_x, orange_l_lo, 1.3, color=ORANGE, lw=0)
ax.fill_between(orange_r_x, orange_r_lo, 1.3, color=ORANGE, lw=0)
ax.fill_between(black_x, black_lo, 1.3, color='black', lw=0)
ax.fill_between(red_l_x, 1.3, red_l_hi, color=VRED, lw=0)
ax.fill_between(red_r_x, 1.3, red_r_hi, color=VRED, lw=0)
ax.fill_between(green_l_x, 1.3, green_l_hi, color=GREEN, lw=0)
ax.fill_between(green_r_x, 1.3, green_r_hi, color=GREEN, lw=0)
ax.scatter(green_x, green_y, s=15, color=GREEN, lw=0, zorder=3)
ax.scatter(red_x, red_y, s=15, color=VRED, lw=0, zorder=3)
ax.scatter(orange_x, orange_y, s=15, color=ORANGE, lw=0, zorder=3)
ax.plot(pthlh_fc, pthlh_p, 'o', ms=9, mfc=GREEN, mec='#555555', mew=0.8, zorder=4)
ax.text(pthlh_fc + 0.45, pthlh_p, '$\\mathit{Pthlh}$', fontsize=20, ha='left', va='center')
for xv in (-1, 1):
    ax.axvline(xv, color='black', lw=1, ls=(0, (3, 2)), zorder=5)
ax.axhline(1.3, color='black', lw=1, ls=(0, (3, 2)), zorder=5)
ax.set_xlim(-10.73, 10.8)
ax.set_ylim(-1.15, 31.15)
ax.set_xticks([-10, -5, 0, 5, 10])
ax.set_yticks([0, 5, 10, 15, 20, 25, 30])
for sp in ax.spines.values():
    sp.set_linewidth(1.8)
ax.tick_params(length=6, width=1.5, labelsize=12.5)
ftext(1491, 1510, '-log10(pvalue)', fontsize=24, fontweight='normal', rotation=90, ha='center', va='center')
ftext(1819, 1902, 'Log2FoldChange(p120$^{\\mathrm{Null}}$/p120$^{\\mathrm{WT}}$)', fontsize=23,
      fontweight='normal', ha='center', va='center')

fig.savefig('out.png', dpi=100)
